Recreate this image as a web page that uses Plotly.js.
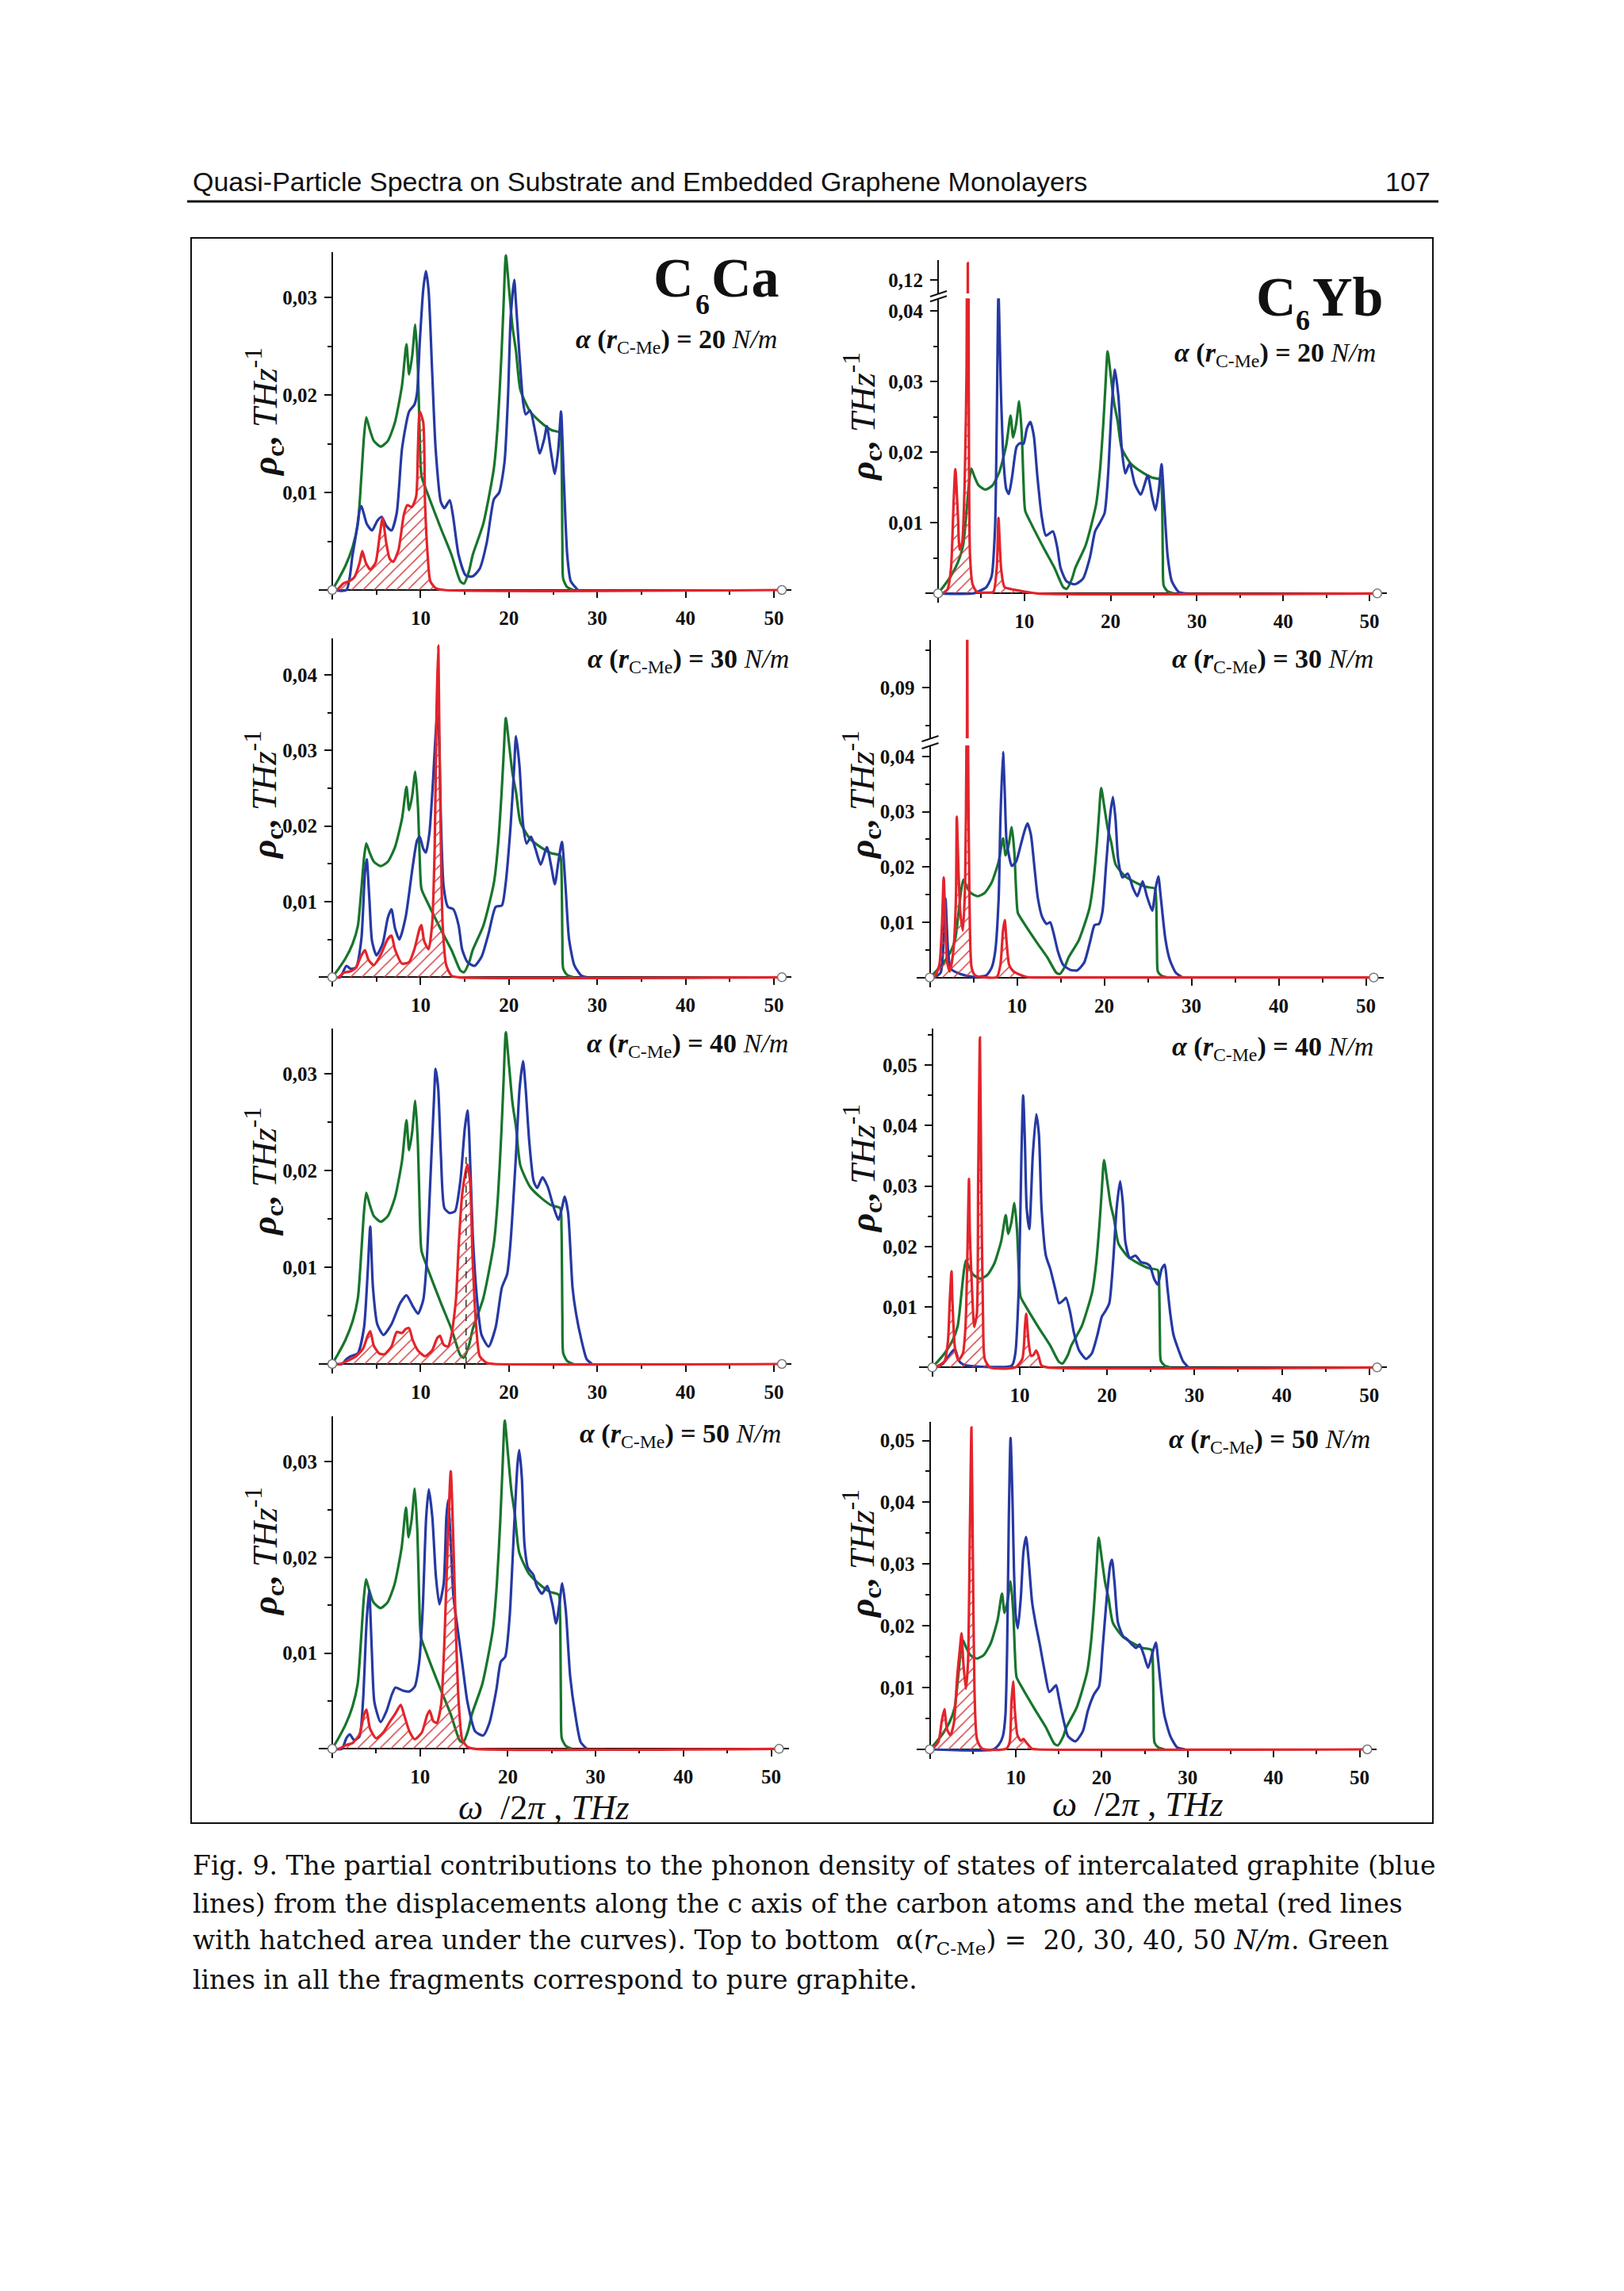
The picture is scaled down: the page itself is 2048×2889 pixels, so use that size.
<!DOCTYPE html>
<html><head><meta charset="utf-8">
<script src="https://cdn.plot.ly/plotly-3.0.1.min.js"></script>
<style>html,body{margin:0;padding:0;background:#fff}</style>
</head><body><div id="chart" style="width:2048px;height:2889px"></div>
<script>
// ---------------- DATA ----------------
// pure graphite (green), same in every panel
const greenX = [0,0.7,1.5,2.3,2.9,3.3,3.6,3.85,4.2,4.7,5.5,6.3,7.1,7.9,8.4,8.7,9.05,9.4,9.7,9.9,10.1,10.7,12.3,13.5,14.5,14.9,15.5,15.9,17.1,18.3,18.75,19.15,19.4,19.65,20.0,20.4,20.8,21.3,22.4,23.6,24.8,25.8,25.95,26.05,26.15,26.6,27.3];
const greenY = [0,0.0011,0.0025,0.0044,0.0068,0.0117,0.0158,0.0177,0.0166,0.0153,0.0147,0.0153,0.0172,0.0210,0.0252,0.0221,0.0240,0.0272,0.0226,0.0158,0.0117,0.0101,0.0063,0.0036,0.0009,0.00065,0.0020,0.0036,0.0068,0.0125,0.0172,0.0240,0.0294,0.0343,0.0310,0.0270,0.0245,0.0205,0.0183,0.0172,0.0164,0.0161,0.0140,0.0050,0.0011,0.0003,0];

// C6Ca, alpha = 20
const blueCa20X = [0,1.6,2.3,2.8,3.1,3.3,3.9,4.5,5.1,5.6,6.1,6.7,7.3,7.9,8.7,9.3,9.6,9.9,10.3,10.6,10.9,11.3,11.7,12.3,12.7,13.3,13.7,14.3,15.1,15.9,16.7,17.5,18.3,18.9,19.5,19.9,20.2,20.6,20.8,21.2,21.6,21.9,22.4,23.0,23.5,24.0,24.3,24.7,25.2,25.6,25.9,26.2,26.6,27.0,27.8];
const blueCa20Y = [0,0,0.0036,0.0063,0.0082,0.0086,0.0068,0.0061,0.0071,0.0075,0.0066,0.0061,0.0079,0.0145,0.0183,0.0190,0.0202,0.0253,0.0308,0.0327,0.0308,0.0226,0.0145,0.0090,0.0084,0.0092,0.0074,0.0036,0.0015,0.0014,0.0022,0.0049,0.0093,0.0100,0.0131,0.0199,0.0280,0.0318,0.0294,0.0240,0.0193,0.0180,0.0184,0.0161,0.0140,0.0155,0.0168,0.0145,0.0119,0.0145,0.0183,0.0117,0.0036,0.0009,0];
const redCa20X = [0,0.5,1.3,1.9,2.5,3.1,3.4,3.8,4.3,4.9,5.4,5.7,6.1,6.5,6.9,7.5,8.1,8.5,9.0,9.5,9.7,9.9,10.3,10.5,10.8,11.1,11.7,12.7,50.9];
const redCa20Y = [0,0,0.0007,0.0009,0.0013,0.0028,0.0040,0.0028,0.0021,0.0028,0.0058,0.0074,0.0049,0.0032,0.0029,0.0041,0.0077,0.0087,0.0085,0.0096,0.0145,0.0183,0.0172,0.0090,0.0036,0.0009,0.0002,0,0];

// C6Ca, alpha = 30
const blueCa30X = [0,0.9,1.6,2.1,2.7,3.3,3.7,3.9,4.2,4.5,5.0,5.7,6.3,6.7,7.1,7.6,8.3,9.1,9.6,9.9,10.3,10.6,11.0,11.4,11.7,11.9,12.1,12.3,12.6,13.1,13.7,14.3,14.7,15.3,16.1,16.9,17.7,18.5,19.2,19.6,20.2,20.6,20.8,21.2,21.6,22.0,22.5,23.0,23.6,24.3,24.8,25.2,25.6,26.0,26.4,26.8,27.4,28.2,28.8];
const blueCa30Y = [0,0,0.0015,0.0011,0.0013,0.0051,0.0139,0.0156,0.0104,0.0048,0.0029,0.0044,0.0079,0.0090,0.0065,0.0050,0.0079,0.0146,0.0181,0.0186,0.0170,0.0165,0.0191,0.0258,0.0321,0.0349,0.0314,0.0209,0.0121,0.0093,0.0090,0.0069,0.0037,0.0020,0.0015,0.0027,0.0058,0.0093,0.0095,0.0121,0.0202,0.0279,0.0319,0.0279,0.0202,0.0177,0.0186,0.0170,0.0149,0.0172,0.0146,0.0123,0.0153,0.0179,0.0121,0.0051,0.0016,0.0002,0];
const redCa30X = [0,0.7,1.3,2.1,2.7,3.3,3.7,4.1,4.7,5.5,6.3,6.7,7.1,7.9,8.7,9.3,9.9,10.1,10.4,10.9,11.3,11.6,11.8,12.0,12.1,12.3,12.5,12.9,13.5,14.3,50.9];
const redCa30Y = [0,0,0.0006,0.0008,0.0013,0.0029,0.0036,0.0023,0.0016,0.0030,0.0051,0.0055,0.0037,0.0018,0.0020,0.0037,0.0065,0.0069,0.0048,0.0037,0.0069,0.0174,0.0349,0.0439,0.0349,0.0174,0.0069,0.0016,0.0002,0,0];

// C6Ca, alpha = 40
const blueCa40X = [0,1.1,1.6,2.1,2.9,3.6,4.0,4.3,4.6,5.1,5.8,6.7,7.7,8.4,9.1,9.7,10.3,10.7,11.1,11.5,11.7,12.0,12.3,12.7,13.3,13.9,14.5,15.0,15.3,15.5,15.9,16.4,16.9,17.7,18.5,19.2,19.8,20.2,20.8,21.2,21.6,21.9,22.3,22.8,23.2,23.8,24.4,25.0,25.6,26.0,26.3,26.7,27.2,27.6,28.2,28.8,29.4];
const blueCa40Y = [0,0,0.0005,0.0008,0.0011,0.0038,0.0093,0.0142,0.0080,0.0041,0.0030,0.0041,0.0063,0.0071,0.0060,0.0052,0.0066,0.0107,0.0189,0.0270,0.0305,0.0284,0.0216,0.0161,0.0156,0.0158,0.0189,0.0243,0.0262,0.0238,0.0134,0.0066,0.0030,0.0018,0.0038,0.0079,0.0093,0.0128,0.0216,0.0284,0.0313,0.0284,0.0230,0.0189,0.0182,0.0193,0.0183,0.0164,0.0149,0.0161,0.0173,0.0156,0.0079,0.0052,0.0025,0.0005,0];
const redCa40X = [0,0.9,1.9,2.7,3.5,4.0,4.3,4.7,5.3,5.9,6.7,7.3,7.9,8.3,8.7,9.1,9.7,10.5,11.3,11.9,12.2,12.6,13.1,13.5,14.0,14.3,14.7,15.1,15.3,15.6,15.9,16.3,16.7,17.5,18.3,50.9];
const redCa40Y = [0,0,0.0004,0.0008,0.0016,0.0029,0.0034,0.0019,0.0011,0.0010,0.0018,0.0033,0.0032,0.0036,0.0037,0.0025,0.0014,0.0008,0.0014,0.0027,0.0029,0.0020,0.0018,0.0030,0.0066,0.0120,0.0175,0.0199,0.0206,0.0189,0.0107,0.0038,0.0008,0.0001,0,0];
const dashCa40X = [15.15,15.15];
const dashCa40Y = [0,0.0215];

// C6Ca, alpha = 50
const blueCa50X = [0,1.1,1.6,2.0,2.5,3.1,3.5,3.9,4.2,4.5,4.8,5.5,6.2,6.8,7.2,8.0,8.8,9.4,9.9,10.3,10.7,11.0,11.4,11.8,12.2,12.7,13.0,13.2,13.5,13.8,14.2,14.8,15.4,16.3,17.2,17.9,18.7,19.2,19.7,20.2,20.7,21.1,21.3,21.6,21.9,22.3,22.9,23.3,23.9,24.5,25.1,25.5,25.9,26.2,26.6,27.1,27.7,28.3,29.0];
const blueCa50Y = [0,0,0.0011,0.0015,0.0009,0.0013,0.0049,0.0131,0.0166,0.0104,0.0049,0.0028,0.0040,0.0057,0.0064,0.0061,0.0060,0.0065,0.0090,0.0145,0.0242,0.0271,0.0242,0.0181,0.0151,0.0173,0.0242,0.0260,0.0215,0.0160,0.0131,0.0090,0.0049,0.0018,0.0014,0.0027,0.0062,0.0091,0.0096,0.0137,0.0228,0.0297,0.0312,0.0283,0.0213,0.0189,0.0182,0.0170,0.0162,0.0170,0.0150,0.0131,0.0153,0.0173,0.0145,0.0076,0.0035,0.0007,0];
const redCa50X = [0,0.7,1.6,2.3,3.1,3.6,3.9,4.3,5.0,5.8,6.6,7.2,7.8,8.2,8.8,9.4,10.2,10.8,11.1,11.5,11.9,12.4,12.8,13.2,13.5,13.8,14.1,14.4,14.8,15.4,16.3,50.9];
const redCa50Y = [0,0,0.0004,0.0006,0.0015,0.0035,0.0041,0.0021,0.0011,0.0017,0.0029,0.0037,0.0046,0.0035,0.0018,0.0010,0.0017,0.0035,0.0040,0.0029,0.0027,0.0046,0.0118,0.0228,0.0290,0.0215,0.0118,0.0049,0.0010,0.0002,0,0];

// C6Yb, alpha = 20
const blueYb20X = [0,4.1,4.9,5.6,6.2,6.6,6.8,7.0,7.3,7.6,7.9,8.2,8.6,9.1,9.5,9.9,10.3,10.7,11.1,11.5,12.0,12.5,13.3,13.8,14.2,14.9,15.9,16.8,17.6,18.2,18.7,19.3,19.7,20.1,20.5,20.9,21.3,21.7,22.2,22.8,23.5,24.3,24.8,25.2,25.6,25.9,26.2,26.6,27.1,27.9,28.8];
const blueYb20Y = [0,0,0.0004,0.0009,0.0024,0.0092,0.0242,0.0425,0.0279,0.0185,0.0148,0.0141,0.0167,0.0208,0.0213,0.0212,0.0234,0.0243,0.0223,0.0167,0.0110,0.0082,0.0088,0.0066,0.0036,0.0017,0.0013,0.0021,0.0051,0.0088,0.0099,0.0114,0.0167,0.0260,0.0317,0.0279,0.0204,0.0170,0.0184,0.0155,0.0140,0.0167,0.0137,0.0118,0.0148,0.0183,0.0129,0.0054,0.0017,0.0002,0];
const redYb20X = [0,0.5,1.1,1.5,1.8,2.0,2.3,2.5,2.8,3.1,3.3,3.45,3.55,3.7,4.0,4.5,5.6,6.4,6.8,7.0,7.3,7.7,8.5,8.9,9.8,11.5,50.9];
const redYb20Y = [0,0,0.0006,0.0036,0.0129,0.0176,0.0110,0.0062,0.0073,0.0167,0.0316,0.1224,0.0300,0.0054,0.0013,0.0002,0.0001,0.0002,0.0036,0.0107,0.0036,0.0009,0.0006,0.0005,0.0003,0,0];

// C6Yb, alpha = 30
const blueYb30X = [0,0.5,1.25,1.6,1.8,2.1,2.4,3.1,4.0,5.2,6.5,7.1,7.5,7.9,8.1,8.4,8.6,8.8,9.1,9.4,9.9,10.4,10.9,11.2,11.6,12.0,12.4,12.9,13.4,13.8,14.2,14.7,15.3,16.1,16.9,17.7,18.4,18.9,19.4,19.8,20.2,20.7,21.0,21.3,21.6,22.1,22.7,23.3,23.8,24.4,24.9,25.5,25.9,26.2,26.5,27.0,27.5,28.2,29.0];
const blueYb30Y = [0,0,0.0009,0.0071,0.0143,0.0047,0.0016,0.0009,0.0004,0.0001,0.0004,0.0018,0.0047,0.0143,0.0286,0.0408,0.0334,0.0248,0.0219,0.0202,0.0210,0.0238,0.0267,0.0279,0.0258,0.0200,0.0143,0.0109,0.0097,0.0100,0.0080,0.0047,0.0023,0.0014,0.0013,0.0027,0.0066,0.0095,0.0097,0.0119,0.0200,0.0296,0.0327,0.0286,0.0214,0.0181,0.0188,0.0162,0.0147,0.0174,0.0147,0.0121,0.0162,0.0183,0.0143,0.0071,0.0033,0.0009,0];
const redYb30X = [0,0.5,1.1,1.4,1.6,1.8,2.0,2.3,2.7,3.0,3.1,3.3,3.5,3.8,4.05,4.2,4.3,4.4,4.55,4.8,5.2,6.5,7.7,8.1,8.4,8.6,8.8,9.1,9.6,10.2,11.1,11.9,50.9];
const redYb30Y = [0,0,0.0023,0.0095,0.0181,0.0095,0.0028,0.0011,0.0047,0.0143,0.0291,0.0190,0.0119,0.0085,0.0167,0.0400,0.1000,0.0400,0.0143,0.0018,0.0004,0,0.0001,0.0023,0.0085,0.0104,0.0066,0.0023,0.0011,0.0006,0.0001,0,0];

// C6Yb, alpha = 40
const blueYb40X = [0,0.5,1.2,1.7,2.2,2.6,3.0,3.4,4.0,9.1,9.5,9.9,10.2,10.4,10.6,10.8,11.1,11.5,11.9,12.2,12.5,13.0,13.5,14.1,14.5,15.0,15.3,15.75,16.2,16.8,17.6,18.25,18.9,19.4,19.8,20.25,20.7,21.1,21.5,21.8,22.1,22.6,23.25,23.9,24.5,24.9,25.4,25.8,26.25,26.6,26.9,27.2,27.6,28.0,28.7,29.3];
const blueYb40Y = [0,0,0.0006,0.0015,0.0025,0.0030,0.0012,0.0006,0.0003,0.0003,0.0023,0.0133,0.0351,0.0450,0.0373,0.0264,0.0229,0.0351,0.0419,0.0386,0.0264,0.0185,0.0163,0.0128,0.0106,0.0111,0.0115,0.0093,0.0058,0.0028,0.0014,0.0023,0.0054,0.0084,0.0093,0.0106,0.0176,0.0264,0.0308,0.0273,0.0207,0.0181,0.0185,0.0174,0.0172,0.0168,0.0146,0.0137,0.0163,0.0170,0.0133,0.0093,0.0054,0.0036,0.0010,0];
const redYb40X = [0,0.3,1.4,1.8,2.0,2.2,2.3,2.6,3.0,3.5,3.8,4.0,4.2,4.3,4.6,4.8,5.1,5.25,5.45,5.6,5.8,6.0,6.6,9.5,10.3,10.6,10.75,11.0,11.3,11.6,11.9,12.2,12.5,13.25,50.9];
const redYb40Y = [0,0,0.0010,0.0045,0.0111,0.0159,0.0111,0.0032,0.0012,0.0023,0.0067,0.0176,0.0312,0.0221,0.0111,0.0067,0.0089,0.0308,0.0546,0.0308,0.0089,0.0014,0,0,0.0014,0.0067,0.0089,0.0045,0.0019,0.0021,0.0028,0.0017,0.0003,0,0];

// C6Yb, alpha = 50
const blueYb50X = [0,7.4,8.05,8.5,8.8,9.0,9.2,9.4,9.6,9.8,10.0,10.25,10.6,10.9,11.2,11.5,11.9,12.3,12.8,13.35,13.9,14.3,14.7,15.0,15.5,16.1,16.95,17.8,18.4,19.1,19.7,20.1,20.6,21.0,21.2,21.5,21.9,22.5,22.9,23.5,24.0,24.4,24.9,25.4,25.85,26.3,26.6,26.9,27.3,28.0,28.8,29.7];
const blueYb50Y = [0,0,0.0008,0.0021,0.0055,0.0162,0.0376,0.0504,0.0419,0.0290,0.0217,0.0196,0.0247,0.0320,0.0344,0.0307,0.0239,0.0205,0.0170,0.0128,0.0093,0.0098,0.0104,0.0085,0.0051,0.0021,0.0013,0.0029,0.0063,0.0089,0.0102,0.0162,0.0247,0.0299,0.0307,0.0269,0.0205,0.0183,0.0179,0.0170,0.0164,0.0170,0.0153,0.0132,0.0153,0.0173,0.0140,0.0098,0.0055,0.0021,0.0003,0];
const redYb50X = [0,0.2,1.0,1.4,1.7,2.0,2.4,2.8,3.2,3.5,3.7,3.9,4.2,4.45,4.65,4.85,5.0,5.2,5.5,6.1,8.9,9.3,9.5,9.7,9.9,10.2,10.6,10.9,11.3,11.9,12.5,50.9];
const redYb50Y = [0,0,0.0012,0.0046,0.0065,0.0033,0.0023,0.0042,0.0119,0.0162,0.0188,0.0141,0.0098,0.0141,0.0333,0.0521,0.0333,0.0098,0.0016,0.0001,0.0001,0.0012,0.0076,0.0110,0.0063,0.0023,0.0014,0.0017,0.0010,0.0001,0,0];

// ticks and labels
const xTickVals = [10,20,30,40,50];
const yTicks3 = [0.01,0.02,0.03];
const yTicks4 = [0.01,0.02,0.03,0.04];
const yTicks5 = [0.01,0.02,0.03,0.04,0.05];
const yTicksUpYb20 = [0.12];
const yTicksUpYb30 = [0.09];
const axisEndX = [0,50.9];
const axisEndY = [0,0];
const alphaValues = [20,20,30,30,40,40,50,50];

// ---------------- LAYOUT HELPERS ----------------
const W = 2048, H = 2889;
const fx = p => p / W;
const fy = p => 1 - p / H;
const tickText = v => v.toFixed(2).replace('.', ',');
const GREEN = '#18752c', BLUE = '#2639a3', RED = '#e3242b';
const SERIF = 'Liberation Serif';
const NB = '\u00A0';

// panel geometry in page pixels: x0 = pixel of x=0, kx = px per THz, y0 = baseline pixel, ky = px per unit y
const panels = [
  {x0:419, kx:11.14, y0:744,   ky:12300, ytop:0.0346, ticks:yTicks3, bx:blueCa20X, by:blueCa20Y, rx:redCa20X, ry:redCa20Y},
  {x0:1183,kx:10.88, y0:748.3, ky:8900,  ytop:0.0418, ticks:yTicks4, bx:blueYb20X, by:blueYb20Y, rx:redYb20X, ry:redYb20Y,
    up:{top:328.3, bot:370, ref:0.12, refpx:353.3, ky:8900, ticks:yTicksUpYb20}},
  {x0:419, kx:11.14, y0:1232.3,ky:9530,  ytop:0.0448, ticks:yTicks4, bx:blueCa30X, by:blueCa30Y, rx:redCa30X, ry:redCa30Y},
  {x0:1172.5,kx:11.0,y0:1232.7,ky:6970,  ytop:0.0420, ticks:yTicks4, bx:blueYb30X, by:blueYb30Y, rx:redYb30X, ry:redYb30Y,
    up:{top:806.7, bot:931, ref:0.09, refpx:867.3, ky:9470, ticks:yTicksUpYb30}},
  {x0:419, kx:11.14, y0:1720,  ky:12200, ytop:0.0347, ticks:yTicks3, bx:blueCa40X, by:blueCa40Y, rx:redCa40X, ry:redCa40Y, dash:true},
  {x0:1175.7,kx:11.02,y0:1724.3,ky:7620, ytop:0.0561, ticks:yTicks5, bx:blueYb40X, by:blueYb40Y, rx:redYb40X, ry:redYb40Y},
  {x0:419, kx:11.07, y0:2205.3,ky:12070, ytop:0.0347, ticks:yTicks3, bx:blueCa50X, by:blueCa50Y, rx:redCa50X, ry:redCa50Y},
  {x0:1172.5,kx:10.84,y0:2206, ky:7790,  ytop:0.0530, ticks:yTicks5, bx:blueYb50X, by:blueYb50Y, rx:redYb50X, ry:redYb50Y}
];

const axisCommon = {
  showgrid:false, zeroline:false, showline:true, linecolor:'#111', linewidth:2,
  ticks:'outside', tickcolor:'#111', tickwidth:2, ticklen:9,
  tickfont:{family:SERIF, size:25, color:'#111', weight:'bold'},
  fixedrange:true, layer:'below traces'
};

const layout = {
  width:W, height:H, margin:{l:0,r:0,t:0,b:0},
  paper_bgcolor:'#fff', plot_bgcolor:'rgba(0,0,0,0)',
  showlegend:false, annotations:[], shapes:[]
};
const traces = [];
const lineStyle = (c) => ({color:c, width:3.2, shape:'spline', smoothing:0.6});
let extraY = 9;

panels.forEach((g, i) => {
  const n = i + 1;
  const xn = 'x' + (n===1?'':n), yn = 'y' + (n===1?'':n);
  const xa = 'xaxis' + (n===1?'':n), ya = 'yaxis' + (n===1?'':n);
  const xmin = -1.5, xmax = 52;
  const ymin = -12 / g.ky;
  layout[xa] = Object.assign({}, axisCommon, {
    domain:[fx(g.x0 + xmin*g.kx), fx(g.x0 + xmax*g.kx)], range:[xmin, xmax],
    anchor:'free', position:fy(g.y0),
    tickmode:'array', tickvals:xTickVals, ticktext:xTickVals.map(String), ticklabelstandoff:4,
    minor:{tick0:0, dtick:5, ticks:'outside', ticklen:5, tickwidth:2, tickcolor:'#111'}
  });
  layout[ya] = Object.assign({}, axisCommon, {
    domain:[fy(g.y0 - ymin*g.ky), fy(g.y0 - g.ytop*g.ky)], range:[ymin, g.ytop],
    anchor:'free', position:fx(g.x0),
    tickmode:'array', tickvals:g.ticks, ticktext:g.ticks.map(tickText), ticklabelstandoff:4,
    minor:{tick0:0, dtick:0.005, ticks:'outside', ticklen:5, tickwidth:2, tickcolor:'#111'}
  });

  traces.push({x:greenX, y:greenY, xaxis:xn, yaxis:yn, mode:'lines', line:lineStyle(GREEN), hoverinfo:'skip'});
  traces.push({x:g.bx, y:g.by, xaxis:xn, yaxis:yn, mode:'lines', line:lineStyle(BLUE), hoverinfo:'skip'});
  traces.push({x:g.rx, y:g.ry, xaxis:xn, yaxis:yn, mode:'lines', line:lineStyle(RED),
    fill:'tozeroy', fillcolor:'rgba(0,0,0,0)',
    fillpattern:{shape:'/', size:10, solidity:0.15, fgcolor:'#d23a3a', bgcolor:'rgba(255,255,255,0)', fillmode:'replace'},
    hoverinfo:'skip'});
  if (g.dash) {
    traces.push({x:dashCa40X, y:dashCa40Y, xaxis:xn, yaxis:yn, mode:'lines',
      line:{color:'#333', width:1.5, dash:'dash'}, hoverinfo:'skip'});
  }

  if (g.up) {
    const u = g.up;
    const yu = 'y' + extraY, yau = 'yaxis' + extraY;
    extraY++;
    const lo = u.ref - (u.bot - u.refpx) / u.ky;
    const hi = u.ref + (u.refpx - u.top) / u.ky;
    layout[yau] = Object.assign({}, axisCommon, {
      domain:[fy(u.bot), fy(u.top)], range:[lo, hi],
      anchor:'free', position:fx(g.x0),
      tickmode:'array', tickvals:u.ticks, ticktext:u.ticks.map(tickText), ticklabelstandoff:4,
      minor:{tick0:0, dtick:0.005, ticks:'outside', ticklen:5, tickwidth:2, tickcolor:'#111'}
    });
    traces.push({x:g.rx, y:g.ry, xaxis:xn, yaxis:yu, mode:'lines', line:lineStyle(RED), hoverinfo:'skip'});
    // break marks
    const bLo = g.y0 - g.ytop*g.ky;
    [u.bot + 1, bLo + 1].forEach(py => {
      layout.shapes.push({type:'line', xref:'paper', yref:'paper',
        x0:fx(g.x0 - 10), y0:fy(py + 3), x1:fx(g.x0 + 11), y1:fy(py - 4),
        line:{color:'#111', width:2}});
    });
  }

  traces.push({x:axisEndX, y:axisEndY, xaxis:xn, yaxis:yn, mode:'markers', cliponaxis:false,
    marker:{size:11, color:'#fff', line:{color:'#777', width:1.5}}, hoverinfo:'skip'});
});

// ---------------- TEXT ----------------
const A = (text, xpx, ypx, o) => Object.assign({text, x:fx(xpx), y:fy(ypx), xref:'paper', yref:'paper', showarrow:false}, o);

// header and page number
layout.annotations.push(A('Quasi-Particle Spectra on Substrate and Embedded Graphene Monolayers', 241, 229,
  {xanchor:'left', yanchor:'middle', font:{family:'Liberation Sans', size:34, color:'#111'}}));
layout.annotations.push(A('107', 1806, 229, {xanchor:'right', yanchor:'middle', font:{family:'Liberation Sans', size:34, color:'#111'}}));

// compound labels: big letters plus a lowered "6"
const bigFont = {family:SERIF, size:70, color:'#111', weight:'bold'};
const subFont = {family:SERIF, size:36, color:'#111', weight:'bold'};
layout.annotations.push(A('C', 877, 310, {xanchor:'right', yanchor:'top', font:bigFont}));
layout.annotations.push(A('6', 886, 362, {xanchor:'center', yanchor:'top', font:subFont}));
layout.annotations.push(A('Ca', 895, 310, {xanchor:'left', yanchor:'top', font:bigFont}));
layout.annotations.push(A('C', 1637, 334, {xanchor:'right', yanchor:'top', font:bigFont}));
layout.annotations.push(A('6', 1643, 382, {xanchor:'center', yanchor:'top', font:subFont}));
layout.annotations.push(A('Yb', 1653, 334, {xanchor:'left', yanchor:'top', font:bigFont}));

// alpha labels: [right px, baseline px]
const alphaPos = [[982,440],[1737,457],[997,843],[1734,843],[996,1328],[1734,1332],[987,1820],[1730,1827]];
alphaPos.forEach((p, i) => {
  layout.annotations.push(A('<b><i>α</i> (<i>r</i></b><sub>C-Me</sub><b>) = ' + alphaValues[i] + ' </b><i>N/m</i>',
    p[0], p[1] - 10, {xanchor:'right', yanchor:'middle', font:{family:SERIF, size:34, color:'#111'}}));
});

// y titles
const yTitlePos = [[333,520],[1087,526],[333,1003],[1087,1003],[333,1478],[1087,1474],[333,1957],[1087,1960]];
yTitlePos.forEach(p => {
  layout.annotations.push(A('<b><i>ρ</i></b><sub><b>c</b></sub><b>,</b> <i>THz</i><sup>-1</sup>', p[0], p[1],
    {xanchor:'center', yanchor:'middle', textangle:-90, font:{family:SERIF, size:45, color:'#111'}}));
});

// x titles
[[686,2279],[1435,2275]].forEach(p => {
  layout.annotations.push(A('<i>ω</i>' + NB + NB + '/2<i>π</i>' + NB + ',' + NB + '<i>THz</i>', p[0], p[1],
    {xanchor:'center', yanchor:'middle', font:{family:SERIF, size:44, color:'#111'}}));
});

// caption
const captionLines = [
  'Fig. 9. The partial contributions to the phonon density of states of intercalated graphite (blue',
  'lines) from the displacements along the c axis of the carbon atoms and the metal (red lines',
  'with hatched area under the curves). Top to bottom  α(<i>r</i><sub>C-Me</sub>) =  20, 30, 40, 50 <i>N/m</i>. Green',
  'lines in all the fragments correspond to pure graphite.'
];
const captionY = [2352, 2400, 2448, 2496];
captionLines.forEach((t, i) => {
  layout.annotations.push(A(t, 241, captionY[i], {xanchor:'left', yanchor:'middle',
    font:{family:'DejaVu Serif', size:33, color:'#111'}}));
});

// frame and header rule
layout.shapes.push({type:'rect', xref:'paper', yref:'paper', x0:fx(241), x1:fx(1807), y0:fy(2299), y1:fy(300),
  line:{color:'#111', width:2}, fillcolor:'rgba(0,0,0,0)'});
layout.shapes.push({type:'line', xref:'paper', yref:'paper', x0:fx(236), x1:fx(1814), y0:fy(254), y1:fy(254),
  line:{color:'#111', width:3}});

Plotly.newPlot('chart', traces, layout, {staticPlot:true, displayModeBar:false});
</script></body></html>
